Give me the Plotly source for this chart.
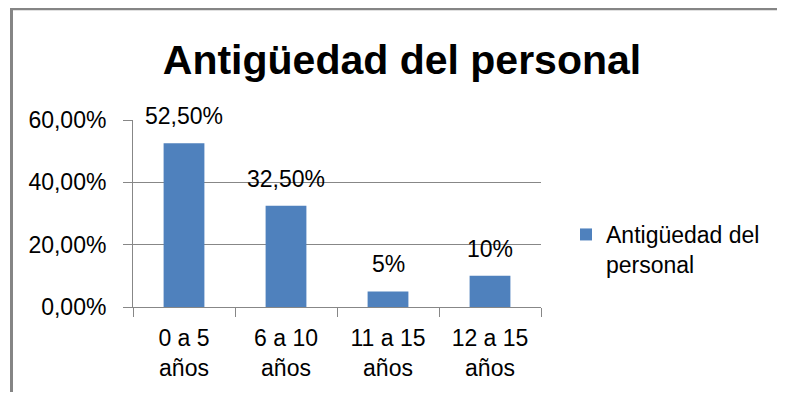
import plotly.graph_objects as go

categories = ["0 a 5<br>años", "6 a 10<br>años", "11 a 15<br>años", "12 a 15<br>años"]
values = [0.525, 0.325, 0.05, 0.10]
value_labels = ["52,50%", "32,50%", "5%", "10%"]
series_name = "Antigüedad del<br>personal"
title_text = "Antigüedad del personal"

FONT = "Liberation Sans"
GRID = "#878787"
BAR = "#4F81BD"

# page body has an 8px margin; figure sized so the page fits 785x400 exactly
OFF = 8
W, H = 785 - 2 * OFF, 400 - 2 * OFF
L, T, PW, PH = 133 - OFF, 120 - OFF, 408, 187

def px_x(screen_x):
    return (screen_x - OFF - L) / PW

def px_y(screen_y):
    return (T + PH - (screen_y - OFF)) / PH

fig = go.Figure()
fig.add_trace(go.Bar(x=categories, y=values, name=series_name,
                     marker=dict(color=BAR, line=dict(width=0)),
                     showlegend=True))

for c, v, t in zip(categories, values, value_labels):
    fig.add_annotation(x=c, y=v, text=t, showarrow=False, yanchor="bottom",
                       yshift=12, font=dict(family=FONT, size=23, color="#000"))

# outer chart frame (only top and left visible)
fig.add_shape(type="rect", xref="paper", yref="paper",
              x0=px_x(11.5), x1=px_x(830), y0=px_y(430), y1=px_y(8.8),
              line=dict(color="#858585", width=3), layer="below")

fig.update_layout(
    width=W, height=H,
    margin=dict(l=L, r=W - L - PW, t=T, b=H - T - PH, autoexpand=False),
    paper_bgcolor="white", plot_bgcolor="white",
    separators=",.",
    bargap=0.6,
    title=dict(text="<b>" + title_text + "</b>", x=(402 - OFF) / W, xanchor="center",
               y=1 - (60 - OFF) / H, yanchor="middle", yref="container",
               font=dict(family=FONT, size=41, color="#000")),
    font=dict(family=FONT, size=23, color="#000"),
    legend=dict(x=px_x(566), y=px_y(213), xanchor="left", yanchor="top",
                font=dict(family=FONT, size=23, color="#000"),
                valign="top", bgcolor="rgba(0,0,0,0)"),
    xaxis=dict(type="category", showline=True, linecolor=GRID, linewidth=1,
               ticks="outside", ticklen=9, tickcolor=GRID, tickson="boundaries",
               showgrid=False, ticklabelstandoff=10, automargin=False,
               tickfont=dict(family=FONT, size=23, color="#000")),
    yaxis=dict(range=[0, 0.6], tickvals=[0, 0.2, 0.4, 0.6], tickformat=".2%",
               showline=True, linecolor=GRID, linewidth=1,
               ticks="outside", ticklen=9, tickcolor=GRID,
               showgrid=True, gridcolor=GRID, gridwidth=1, zeroline=False,
               ticklabelstandoff=12, automargin=False,
               tickfont=dict(family=FONT, size=23, color="#000")),
)

fig.write_html("out.html")
